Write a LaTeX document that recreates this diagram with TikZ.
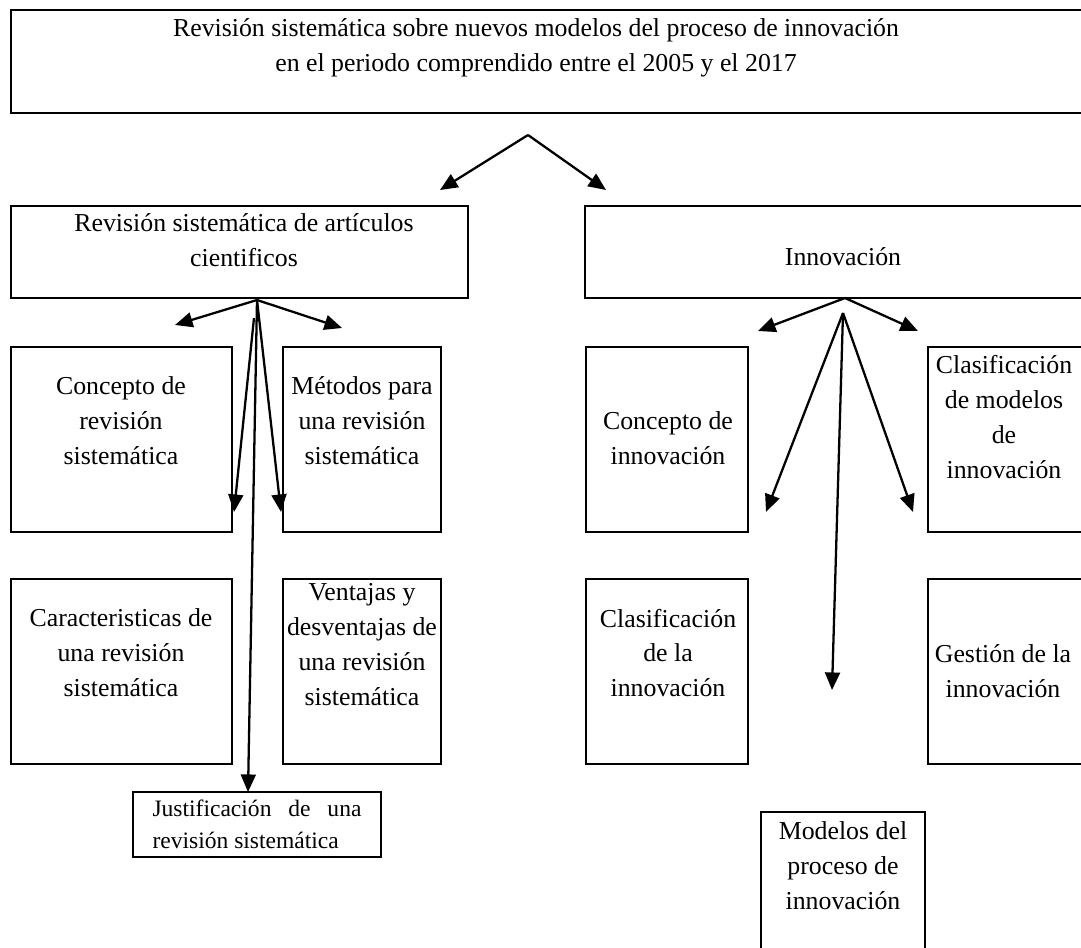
\documentclass[tikz,border=0pt]{standalone}
\usepackage{fontspec}
\setmainfont{Liberation Serif}
\usetikzlibrary{arrows.meta, positioning}
\tikzset{
  every picture/.style={line width=1.3pt},
  box/.style={draw=black, inner sep=0pt, minimum width=#1},
  txt/.style={align=center, font=\fontsize{14.7}{19.9}\selectfont},
  arrow/.style={-{Triangle[length=10pt, width=8.5pt]}, line width=1.3pt},
}

\begin{document}
\begin{tikzpicture}[x=0.02cm, y=-0.02cm]
  \useasboundingbox (0,0) rectangle (1081,947);
  \clip (0,0) rectangle (1081,947);
  % frames
  \foreach \n/\x/\y/\w/\h in {top/560.5/61.5/21.98/2.06, rsa/239.5/252/9.14/1.84, inn/847.5/252/10.5/1.84,
      crs/121.5/439.5/4.42/3.7, mrs/362/439.5/3.16/3.7, car/121.5/671.5/4.42/3.7, ven/362/671.5/3.16/3.7,
      cin/667/439.5/3.24/3.7, cmi/1019/439.5/3.64/3.7, cla/667/671.5/3.24/3.7, ges/1019/671.5/3.64/3.7,
      mod/843/891/3.28/3.16}{
    \node[box=\w cm, minimum height=\h cm] (\n) at (\x,\y) {};
  }
  \node[box=4.96cm, minimum height=1.3cm, line width=0.8pt] (jus) at (257,824.5) {};

  % texts
  \foreach \n/\x/\y/\t in {top/536/48/{Revisión sistemática sobre nuevos modelos del proceso de innovación\\en el periodo comprendido entre el 2005 y el 2017},
      rsa/244/240/{Revisión sistemática de artículos\\cientificos}, inn/843/257/{Innovación},
      crs/121/421/{Concepto de\\revisión\\sistemática}, mrs/362/421/{Métodos para\\una revisión\\sistemática},
      car/121/653/{Caracteristicas de\\una revisión\\sistemática}, ven/362/645/{Ventajas y\\desventajas de\\una revisión\\sistemática},
      cin/668/438/{Concepto de\\innovación}, cmi/1004/417/{Clasificación\\de modelos\\de\\innovación},
      cla/668/653/{Clasificación\\de la\\innovación}, ges/1003/671/{Gestión de la\\innovación},
      mod/843/866/{Modelos del\\proceso de\\innovación}}{
    \node[txt] (\n-t) at (\x,\y) {\t};
  }
  \node[align=justify, text width=4.18cm, inner sep=0pt, font=\fontsize{13.4}{18.2}\selectfont] (jus-t) at (257,824)
    {Justificación de una\linebreak revisión sistemática};

  % forks and tips
  \coordinate (topFork) at (528,135);
  \coordinate (leftFork) at (257,300);
  \coordinate (leftFork2) at (254,318);
  \coordinate (rightFork) at (845,298);
  \coordinate (rightFork2) at (843,313);
  \foreach \c/\x/\y in {t1/440/190, t2/606/190, l1/175/325, l2/342/328, l3/234/512, l4/281/512, l5/248/792,
      r1/758/331, r2/918/331, r3/766/512, r4/913/512, r5/832/690}{
    \coordinate (\c) at (\x,\y);
  }
  \foreach \a/\b in {topFork/t1, topFork/t2, leftFork/l1, leftFork/l2, leftFork2/l3, leftFork/l4, leftFork/l5,
      rightFork/r1, rightFork/r2, rightFork2/r3, rightFork2/r4, rightFork2/r5}{
    \draw[arrow] (\a) -- (\b);
  }
\end{tikzpicture}
\end{document}
